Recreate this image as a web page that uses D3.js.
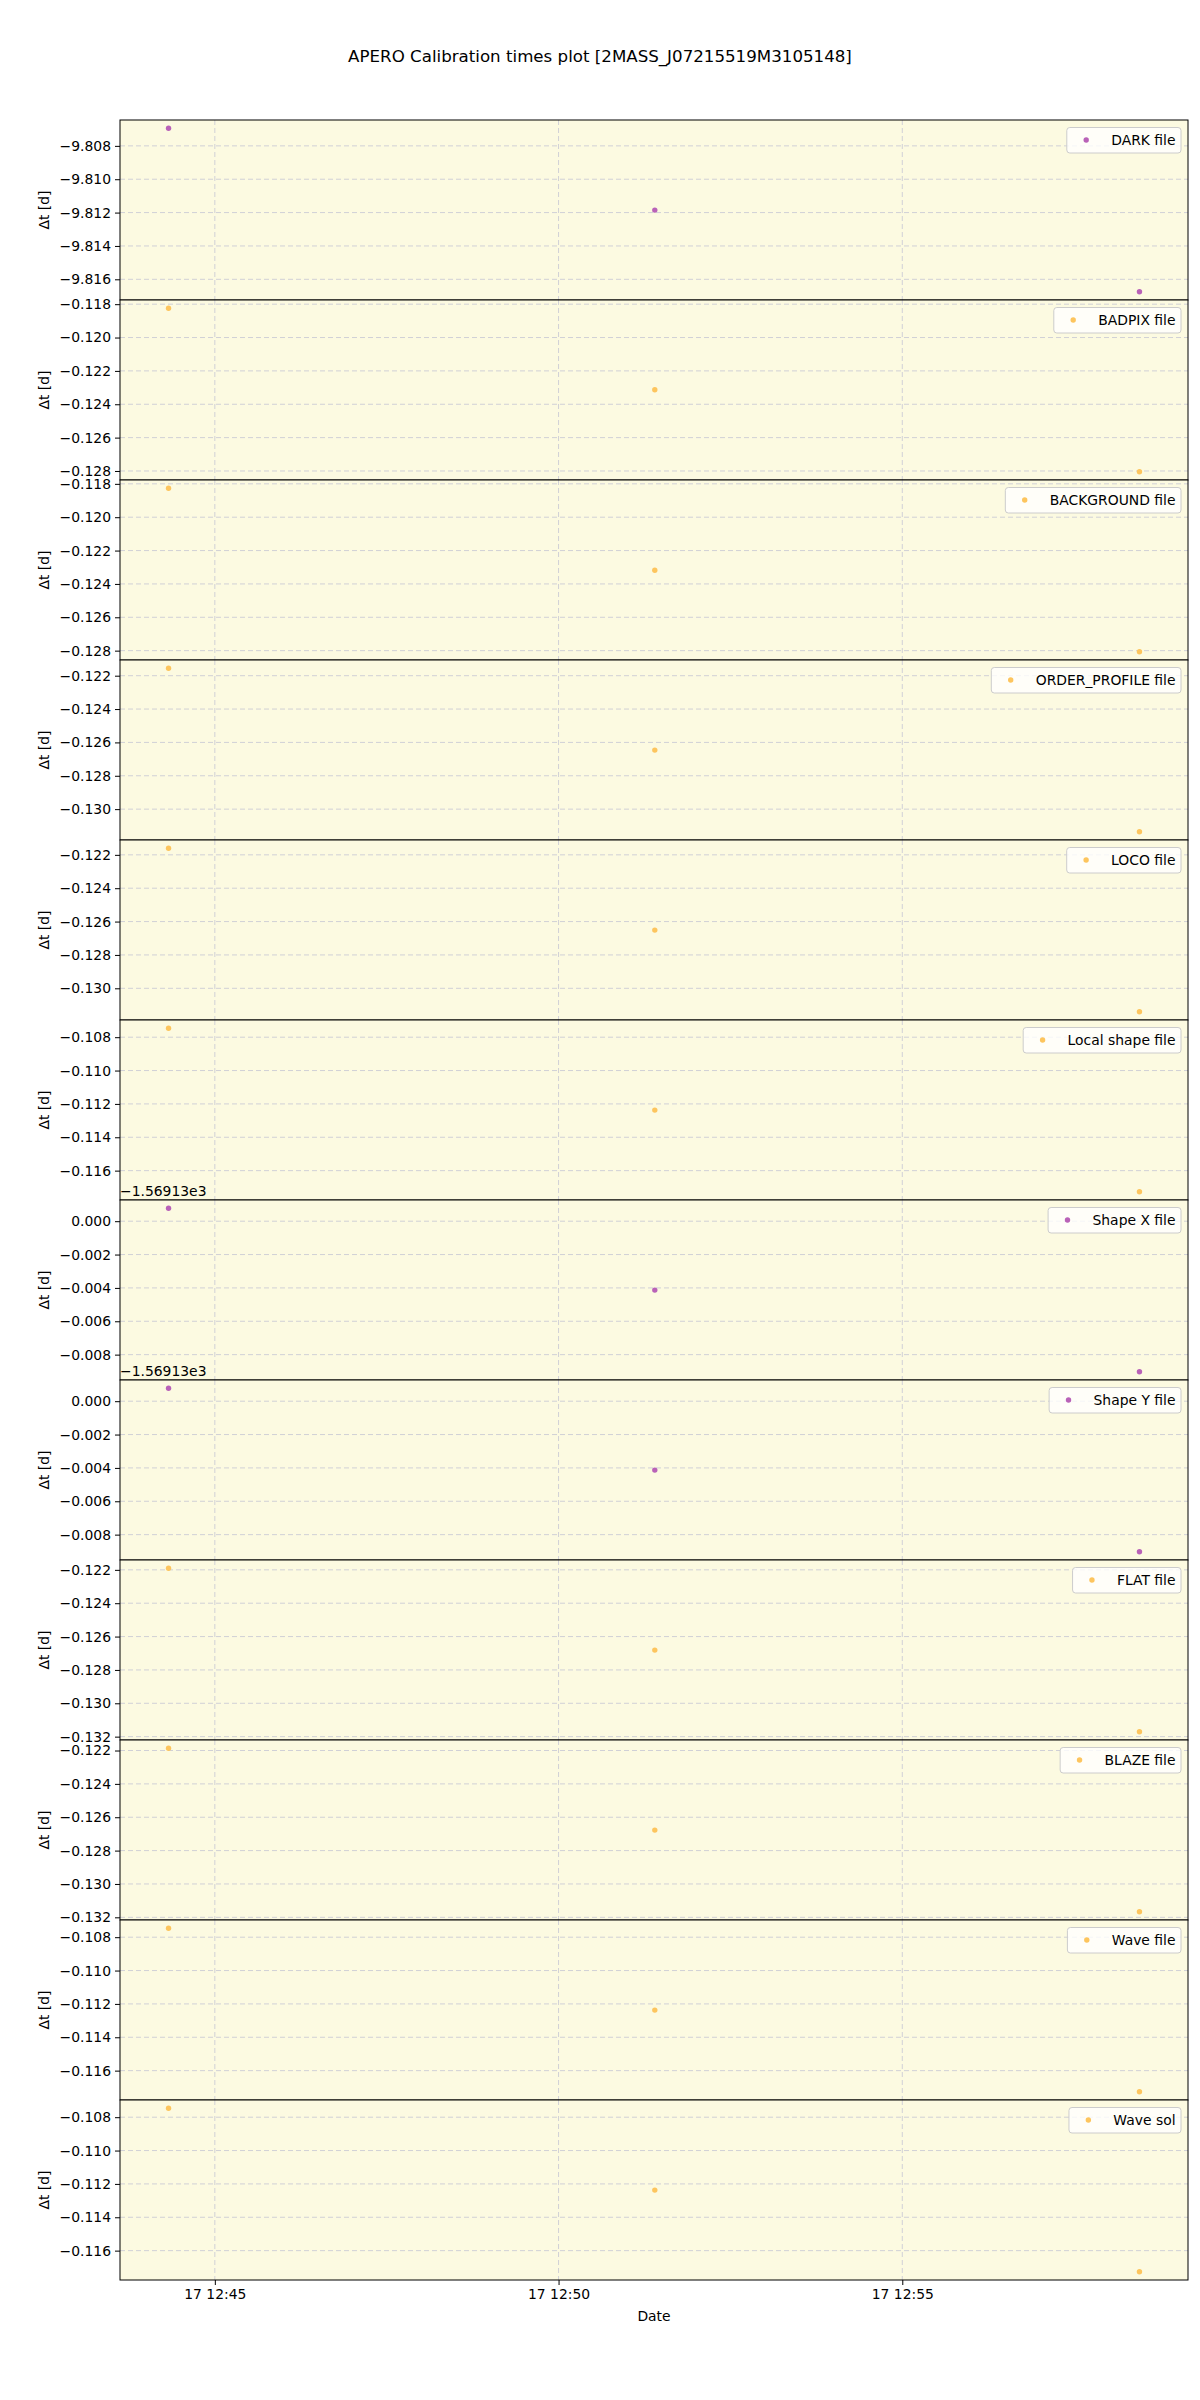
<!DOCTYPE html>
<html>
<head>
<meta charset="utf-8">
<script src="https://cdn.jsdelivr.net/npm/d3@7"></script>
<style>
  html, body { margin: 0; padding: 0; background: #ffffff; }
  svg { display: block; font-family: "DejaVu Sans", sans-serif; }
</style>
</head>
<body>
<svg id="chart" width="1200" height="2400"></svg>
<script>
// ---------------- DATA ----------------
const chartTitle = "APERO Calibration times plot [2MASS_J07215519M3105148]";
const obsTimes = ["2020-01-17T12:44:19.6Z", "2020-01-17T12:51:24.0Z", "2020-01-17T12:58:27.0Z"];

const panelLabels = ["DARK file", "BADPIX file", "BACKGROUND file", "ORDER_PROFILE file",
  "LOCO file", "Local shape file", "Shape X file", "Shape Y file",
  "FLAT file", "BLAZE file", "Wave file", "Wave sol"];
const panelColorNames = ["purple", "orange", "orange", "orange", "orange", "orange",
  "purple", "purple", "orange", "orange", "orange", "orange"];
const panelOffsets = [0, 0, 0, 0, 0, 0, -1569.13, -1569.13, 0, 0, 0, 0];

const darkValues        = [-9.80694, -9.81185, -9.81675];
const badpixValues      = [-0.11824, -0.12313, -0.12805];
const backgroundValues  = [-0.11826, -0.12318, -0.12807];
const orderProfileValues= [-0.12155, -0.12646, -0.13136];
const locoValues        = [-0.12160, -0.12651, -0.13141];
const localShapeValues  = [-0.10746, -0.11237, -0.11727];
const shapeXValues      = [-1569.12922, -1569.13413, -1569.13903];
const shapeYValues      = [-1569.12922, -1569.13413, -1569.13903];
const flatValues        = [-0.12190, -0.12681, -0.13171];
const blazeValues       = [-0.12186, -0.12677, -0.13167];
const waveFileValues    = [-0.10746, -0.11237, -0.11727];
const waveSolValues     = [-0.10746, -0.11237, -0.11727];

const panelSeries = [darkValues, badpixValues, backgroundValues, orderProfileValues,
  locoValues, localShapeValues, shapeXValues, shapeYValues,
  flatValues, blazeValues, waveFileValues, waveSolValues];

// ---------------- STYLE / LAYOUT ----------------
const colorMap = { purple: "#b962b8", orange: "#fdc55e" };
const left = 120, right = 1188, top0 = 120, panelH = 180;
const fs = 13.9;
const svg = d3.select("#chart");

const times = obsTimes.map(s => new Date(s));
const tExt = d3.extent(times);
const tPad = (tExt[1] - tExt[0]) * 0.05;
const x = d3.scaleUtc()
  .domain([new Date(+tExt[0] - tPad), new Date(+tExt[1] + tPad)])
  .range([left, right]);
const xTicks = x.ticks(d3.utcMinute.every(5));

svg.append("text")
  .attr("x", 600).attr("y", 56)
  .attr("text-anchor", "middle").attr("dominant-baseline", "central")
  .attr("font-size", 16.67).attr("fill", "#000")
  .text(chartTitle);

const fmt3 = d3.format(".3f");

panelSeries.forEach((vals, i) => {
  const top = top0 + i * panelH, bottom = top + panelH;
  const ext = d3.extent(vals);
  const pad = (ext[1] - ext[0]) * 0.05;
  const y = d3.scaleLinear().domain([ext[0] - pad, ext[1] + pad]).range([bottom, top]);
  const g = svg.append("g");
  const col = colorMap[panelColorNames[i]];
  const off = panelOffsets[i];

  g.append("rect").attr("x", left).attr("y", top).attr("width", right - left).attr("height", panelH)
    .attr("fill", "#fcfae1");

  const yTicks = y.ticks(6);
  // grid
  g.selectAll(".hg").data(yTicks).join("line")
    .attr("x1", left).attr("x2", right)
    .attr("y1", d => y(d)).attr("y2", d => y(d))
    .attr("stroke", "#d0d0d6").attr("stroke-width", 1).attr("stroke-dasharray", "5,3");
  g.selectAll(".vg").data(xTicks).join("line")
    .attr("x1", d => x(d)).attr("x2", d => x(d))
    .attr("y1", top).attr("y2", bottom)
    .attr("stroke", "#d0d0d6").attr("stroke-width", 1).attr("stroke-dasharray", "5,3");

  // points
  g.selectAll(".pt").data(vals).join("circle")
    .attr("cx", (d, j) => x(times[j])).attr("cy", d => y(d)).attr("r", 2.7)
    .attr("fill", col);

  // y axis
  const yAxis = d3.axisLeft(y).tickValues(yTicks).tickSize(5).tickPadding(4)
    .tickFormat(d => {
      let v = d - off;
      if (Math.abs(v) < 1e-9) v = 0;
      return fmt3(v);
    });
  const ya = g.append("g").attr("transform", `translate(${left},0)`).call(yAxis);
  ya.select(".domain").remove();
  ya.selectAll("text").attr("font-size", fs).attr("font-family", "DejaVu Sans").attr("fill", "#000");
  ya.selectAll("line").attr("stroke", "#000");

  if (off !== 0) {
    g.append("text").attr("x", left).attr("y", top - 4)
      .attr("font-size", fs).attr("fill", "#000")
      .text("\u22121.56913e3");
  }

  // y label
  g.append("text")
    .attr("transform", `translate(44,${top + panelH / 2}) rotate(-90)`)
    .attr("text-anchor", "middle").attr("dominant-baseline", "central")
    .attr("font-size", fs).attr("fill", "#000")
    .text("\u0394t [d]");

  // frame
  g.append("rect").attr("x", left).attr("y", top).attr("width", right - left).attr("height", panelH)
    .attr("fill", "none").attr("stroke", "#000").attr("stroke-width", 1);

  // legend
  const lg = g.append("g");
  const lbl = lg.append("text").attr("font-size", fs).attr("fill", "#000")
    .attr("dominant-baseline", "central").text(panelLabels[i]);
  const tw = lbl.node().getComputedTextLength();
  const bx0 = 5.5, hl = 27.8, htp = 11.1;
  const boxW = bx0 + hl + htp + tw + bx0;
  const bx = right - 7 - boxW, by = top + 7.5;
  lg.insert("rect", "text").attr("x", bx).attr("y", by).attr("width", boxW).attr("height", 25.5)
    .attr("rx", 3).attr("fill", "#ffffff").attr("fill-opacity", 0.8)
    .attr("stroke", "#cccccc").attr("stroke-width", 1);
  lg.append("circle").attr("cx", bx + bx0 + hl / 2).attr("cy", by + 12.5).attr("r", 2.7).attr("fill", col);
  lbl.attr("x", bx + bx0 + hl + htp).attr("y", by + 12.5);

  if (i === panelSeries.length - 1) {
    const xa = svg.append("g").attr("transform", `translate(0,${bottom})`)
      .call(d3.axisBottom(x).tickValues(xTicks).tickSize(5).tickPadding(4)
        .tickFormat(d3.utcFormat("%d %H:%M")));
    xa.select(".domain").remove();
    xa.selectAll("text").attr("font-size", fs).attr("font-family", "DejaVu Sans").attr("fill", "#000");
    xa.selectAll("line").attr("stroke", "#000");
    svg.append("text").attr("x", (left + right) / 2).attr("y", bottom + 36)
      .attr("text-anchor", "middle").attr("dominant-baseline", "central")
      .attr("font-size", fs).attr("fill", "#000").text("Date");
  }
});
</script>
</body>
</html>
